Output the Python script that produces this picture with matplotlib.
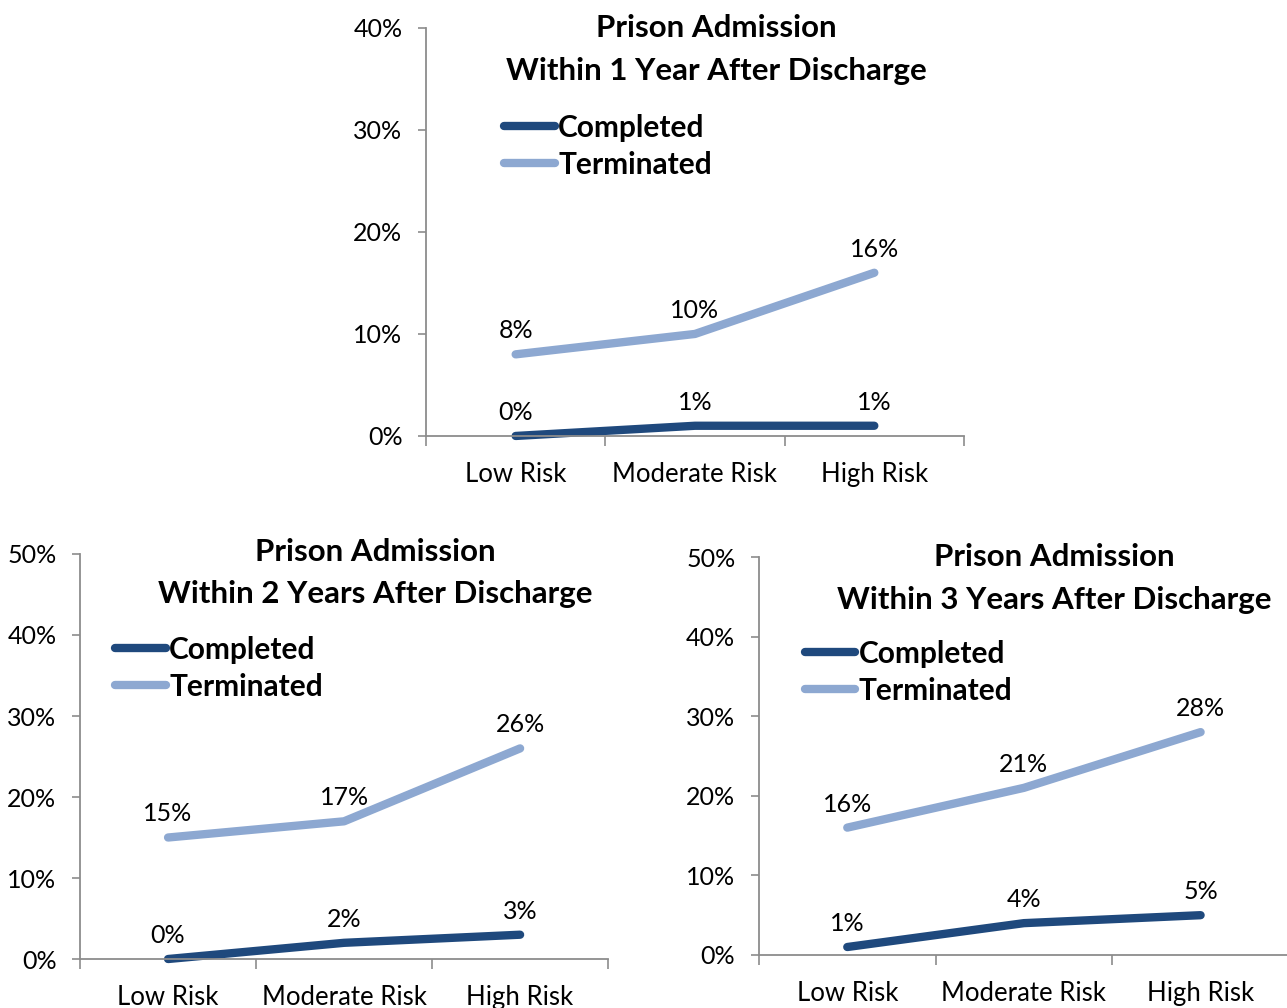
import matplotlib
matplotlib.use("Agg")
import matplotlib.pyplot as plt
from matplotlib.ticker import FixedLocator

plt.rcParams['font.family'] = ['Lato', 'DejaVu Sans']

# data
categories = ["Low Risk", "Moderate Risk", "High Risk"]
series_names = ["Completed", "Terminated"]
completed_1yr = [0, 1, 1]
terminated_1yr = [8, 10, 16]
completed_2yr = [0, 2, 3]
terminated_2yr = [15, 17, 26]
completed_3yr = [1, 4, 5]
terminated_3yr = [16, 21, 28]
titles = ["Within 1 Year After Discharge",
          "Within 2 Years After Discharge",
          "Within 3 Years After Discharge"]

dark = "#1F497D"
light = "#8DA8D1"
gray = "#8C8C8C"

fig = plt.figure(figsize=(12.87, 10.08), dpi=100)

# [left, bottom, width, height], ymax, title x, title y1, title y2, legend anchor
panels = [
    ([0.331, 0.5675, 0.418, 0.4048], 40, 0.539, 1.0, 0.895, (0.145, 0.79)),
    ([0.0622, 0.0486, 0.4103, 0.4018], 50, 0.559, 1.006, 0.901, (0.066, 0.798)),
    ([0.5897, 0.0526, 0.4118, 0.3948], 50, 0.557, 1.001, 0.893, (0.086, 0.792)),
]
data = [(completed_1yr, terminated_1yr),
        (completed_2yr, terminated_2yr),
        (completed_3yr, terminated_3yr)]

for (rect, ymax, tx, ty1, ty2, lg), (comp, term), sub in zip(panels, data, titles):
    ax = fig.add_axes(rect)
    x = range(len(categories))
    for vals, col, name in [(comp, dark, series_names[0]), (term, light, series_names[1])]:
        ax.plot(x, vals, color=col, lw=6, solid_capstyle='round', label=name, clip_on=False)
        for xi, v in zip(x, vals):
            ax.annotate(f"{v}%", (xi, v), xytext=(0, 17), textcoords='offset points',
                        ha='center', va='center', fontsize=18)
    ax.set_xlim(-0.5, 2.5)
    ax.set_ylim(0, ymax)
    ax.set_yticks(range(0, ymax + 1, 10))
    ax.set_yticklabels([f"{t}%" for t in range(0, ymax + 1, 10)])
    ax.set_xticks(list(x))
    ax.set_xticklabels(categories)
    ax.xaxis.set_minor_locator(FixedLocator([-0.5, 0.5, 1.5, 2.5]))
    ax.tick_params(axis='x', which='major', length=0, pad=19, labelsize=18.5)
    ax.tick_params(axis='x', which='minor', length=7, width=1.2, color=gray, direction='out')
    ax.tick_params(axis='y', length=6, width=1.2, color=gray, pad=11, labelsize=18)
    for s in ['top', 'right']:
        ax.spines[s].set_visible(False)
    for s in ['left', 'bottom']:
        ax.spines[s].set_color(gray)
        ax.spines[s].set_linewidth(1.3)
    ax.text(tx, ty1, "Prison Admission", transform=ax.transAxes, ha='center', va='center',
            fontsize=22.5, fontweight='bold')
    ax.text(tx, ty2, sub, transform=ax.transAxes, ha='center', va='center',
            fontsize=22.5, fontweight='bold')
    leg = ax.legend(loc='upper left', bbox_to_anchor=lg, frameon=False, borderpad=0,
                    borderaxespad=0, handlelength=1.7, handletextpad=0.12, labelspacing=0.3,
                    prop={'size': 21.5, 'weight': 'bold'})

fig.savefig("out.png", dpi=100)
